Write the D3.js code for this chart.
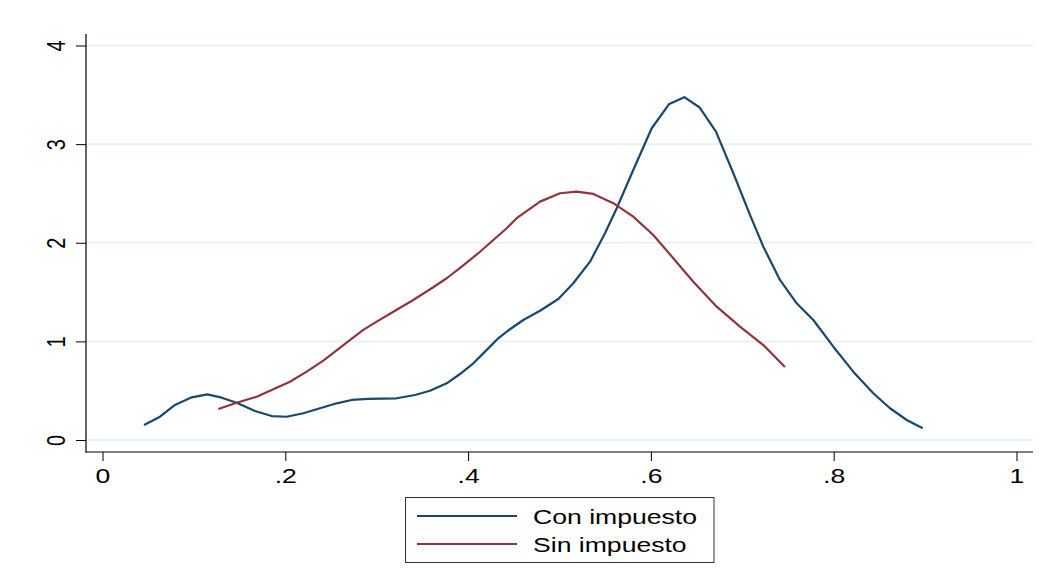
<!DOCTYPE html>
<html>
<head>
<meta charset="utf-8">
<script src="https://cdn.jsdelivr.net/npm/d3@7"></script>
<style>
  body { margin: 0; background: #fff; }
  svg { display: block; }
  text { font-family: "Liberation Sans", Arial, sans-serif; fill: #000; }
</style>
</head>
<body>
<svg id="chart" width="1049" height="585"></svg>
<script>
// kernel density estimates: [x, density]
const conImpuesto = [
  [0.0454, 0.152], [0.0629, 0.236], [0.0793, 0.355], [0.0976, 0.433], [0.1147, 0.463],
  [0.1304, 0.429], [0.1468, 0.378], [0.1668, 0.294], [0.1851, 0.243], [0.2015, 0.236],
  [0.2197, 0.271], [0.2380, 0.322], [0.2562, 0.372], [0.2726, 0.406], [0.2908, 0.416],
  [0.3219, 0.423], [0.3419, 0.456], [0.3583, 0.500], [0.3766, 0.575], [0.3911, 0.669],
  [0.4057, 0.778], [0.4185, 0.896], [0.4330, 1.031], [0.4458, 1.123], [0.4604, 1.217],
  [0.4787, 1.311], [0.4987, 1.430], [0.5151, 1.589], [0.5334, 1.808], [0.5498, 2.096],
  [0.5626, 2.350], [0.5807, 2.738], [0.6009, 3.161], [0.6201, 3.408], [0.6365, 3.476],
  [0.6530, 3.374], [0.6712, 3.127], [0.6902, 2.705], [0.7084, 2.282], [0.7230, 1.960],
  [0.7412, 1.623], [0.7595, 1.386], [0.7777, 1.217], [0.7996, 0.946], [0.8214, 0.693],
  [0.8433, 0.474], [0.8616, 0.322], [0.8799, 0.203], [0.8974, 0.119]
];
const sinImpuesto = [
  [0.1267, 0.314], [0.1468, 0.378], [0.1687, 0.439], [0.1869, 0.514], [0.2051, 0.591],
  [0.2234, 0.693], [0.2416, 0.804], [0.2635, 0.963], [0.2853, 1.116], [0.3000, 1.200],
  [0.3182, 1.301], [0.3400, 1.420], [0.3602, 1.539], [0.3766, 1.640], [0.3930, 1.758],
  [0.4112, 1.894], [0.4276, 2.028], [0.4422, 2.147], [0.4532, 2.249], [0.4787, 2.417],
  [0.5006, 2.502], [0.5188, 2.518], [0.5370, 2.495], [0.5589, 2.401], [0.5807, 2.265],
  [0.6026, 2.079], [0.6245, 1.843], [0.6464, 1.605], [0.6720, 1.352], [0.6975, 1.149],
  [0.7230, 0.963], [0.7467, 0.740]
];
const xTicks = [0, 0.2, 0.4, 0.6, 0.8, 1];
const xTickLabels = ["0", ".2", ".4", ".6", ".8", "1"];
const yTicks = [0, 1, 2, 3, 4];
const seriesNames = ["Con impuesto", "Sin impuesto"];
const seriesColors = ["#1a476f", "#90353b"];

// picture is stretched horizontally, so the text is too
const stretch = 1.33;

const svg = d3.select("#chart");
const x = d3.scaleLinear().domain([0, 1]).range([102.5, 1016.5]);
const y = d3.scaleLinear().domain([0, 4]).range([440, 45.5]);

// grid
svg.append("g")
  .selectAll("line")
  .data(yTicks)
  .join("line")
  .attr("x1", 86).attr("x2", 1033)
  .attr("y1", d => y(d)).attr("y2", d => y(d))
  .attr("stroke", "#eaf2f3")
  .attr("stroke-width", 2);

// y axis
const yAxis = svg.append("g")
  .attr("transform", "translate(86,0)")
  .call(d3.axisLeft(y).tickValues(yTicks).tickSize(10).tickSizeOuter(0).tickFormat(d3.format("d")));
yAxis.select(".domain").remove();
yAxis.selectAll(".tick line").attr("stroke", "#000");
yAxis.selectAll(".tick text")
  .attr("x", null).attr("dy", null)
  .attr("font-size", 20)
  .attr("text-anchor", "middle")
  .attr("transform", `translate(-21,0) scale(${stretch},1) rotate(-90)`);

// x axis
const xAxis = svg.append("g")
  .attr("transform", "translate(0,452)")
  .call(d3.axisBottom(x).tickValues(xTicks).tickSize(9).tickSizeOuter(0)
    .tickFormat((d, i) => xTickLabels[i]));
xAxis.select(".domain").remove();
xAxis.selectAll(".tick line").attr("stroke", "#000");
xAxis.selectAll(".tick text")
  .attr("y", null).attr("dy", null)
  .attr("font-size", 20)
  .attr("text-anchor", "middle")
  .attr("transform", `translate(0,31) scale(${stretch},1)`);

svg.append("line").attr("x1", 86).attr("x2", 86).attr("y1", 34).attr("y2", 452.5)
  .attr("stroke", "#000").attr("stroke-width", 1.2);
svg.append("line").attr("x1", 85.5).attr("x2", 1033).attr("y1", 452).attr("y2", 452)
  .attr("stroke", "#000").attr("stroke-width", 1.2);

// curves
const line = d3.line().x(d => x(d[0])).y(d => y(d[1]));
[conImpuesto, sinImpuesto].forEach((s, i) => {
  svg.append("path")
    .attr("d", line(s))
    .attr("fill", "none")
    .attr("stroke", seriesColors[i])
    .attr("stroke-width", 2.2)
    .attr("stroke-linejoin", "round");
});

// legend
const legend = svg.append("g");
legend.append("rect")
  .attr("x", 405.5).attr("y", 497.5).attr("width", 308.5).attr("height", 65)
  .attr("fill", "#fff").attr("stroke", "#333").attr("stroke-width", 1);
seriesNames.forEach((name, i) => {
  const ly = 516 + i * 28;
  legend.append("line")
    .attr("x1", 417).attr("x2", 517).attr("y1", ly).attr("y2", ly)
    .attr("stroke", seriesColors[i]).attr("stroke-width", 2);
  legend.append("text")
    .attr("font-size", 20)
    .attr("transform", `translate(533,${ly + 8}) scale(${stretch},1)`)
    .text(name);
});
</script>
</body>
</html>
